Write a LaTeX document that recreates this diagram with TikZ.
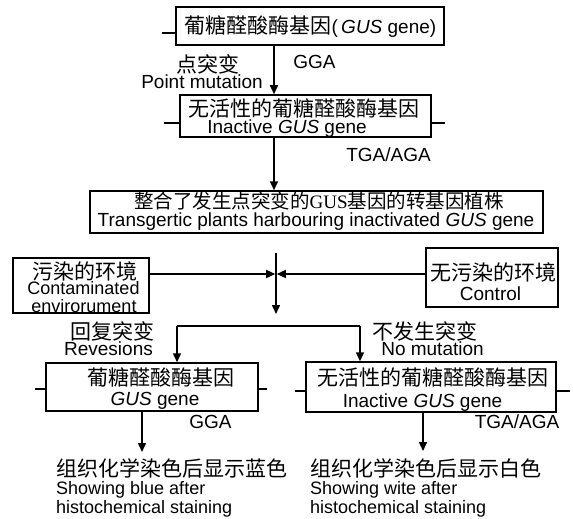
\documentclass[tikz,border=0pt]{standalone}
\usepackage{fontspec}
\setmainfont{Liberation Sans}
\newfontfamily\cjk{Noto Sans CJK SC}
\newfontfamily\serifgus{Liberation Serif}
\newcommand\latf{\fontsize{19}{19}\selectfont\rmfamily}
\usetikzlibrary{arrows.meta}
\begin{document}
\begin{tikzpicture}[x=1pt,y=-1pt,
  box/.style={draw, line width=1.5pt, inner sep=0pt},
  lat/.style={inner sep=0pt, font=\fontsize{19}{19}\selectfont, text height=13.6pt, text depth=0pt},
  latsm/.style={inner sep=0pt, font=\fontsize{18}{18}\selectfont, text height=13pt, text depth=0pt},
  zh/.style={inner sep=0pt, font=\fontsize{21}{21}\selectfont\cjk, text height=16pt, text depth=0pt},
  ln/.style={line width=1.5pt},
  arr/.style={line width=1.5pt, -{Triangle[length=9pt,width=8pt]}}]
\useasboundingbox (0,0) rectangle (573,519);

% boxes
\node[box, minimum width=268pt, minimum height=38pt] (b1) at (310,26) {};
\node[box, minimum width=251pt, minimum height=42pt] (b2) at (305.5,116) {};
\node[box, minimum width=453pt, minimum height=42pt] (b3) at (316.5,212) {};
\node[box, minimum width=136pt, minimum height=55pt] (bl) at (81,285.5) {};
\node[box, minimum width=132pt, minimum height=59pt] (br) at (492,277.5) {};
\node[box, minimum width=212pt, minimum height=48pt] (bL) at (152,387) {};
\node[box, minimum width=250pt, minimum height=50pt] (bR) at (431,387) {};

% box texts
\node[zh] (t1) at (310.5,26) {葡糖醛酸酶基因{\latf(\,\textit{GUS} gene)}};
\node[zh] (t2a) at (303.5,108) {无活性的葡糖醛酸酶基因};
\node[lat] (t2b) at (287,127) {Inactive \textit{GUS} gene};
\node[zh, font=\fontsize{19.5}{19.5}\selectfont\cjk, text height=15pt] (t3a) at (319,201) {整合了发生点突变的{\fontsize{19}{19}\selectfont\serifgus GUS}基因的转基因植株};
\node[lat] (t3b) at (316,220) {Transgertic plants harbouring inactivated \textit{GUS} gene};
\node[zh] (tla) at (85,271) {污染的环境};
\node[latsm] (tlb) at (83.5,288) {Contaminated};
\node[latsm] (tlc) at (84,306) {envirorument};
\node[zh] (tra) at (493.5,272) {无污染的环境};
\node[lat] (trb) at (490.5,294) {Control};
\node[zh] (tLa) at (160.5,377) {葡糖醛酸酶基因};
\node[lat] (tLb) at (155,399) {\textit{GUS} gene};
\node[zh] (tRa) at (433,377) {无活性的葡糖醛酸酶基因};
\node[lat] (tRb) at (422.5,401) {Inactive \textit{GUS} gene};

% labels
\node[zh] (l1) at (207.5,65) {点突变};
\node[lat] (l2) at (202,82) {Point mutation};
\node[lat] (l3) at (314.5,62) {GGA};
\node[lat] (l4) at (388.5,155) {TGA/AGA};
\node[zh] (l5) at (112.5,331) {回复突变};
\node[lat] (l6) at (108.5,349) {Revesions};
\node[zh] (l7) at (424.5,331) {不发生突变};
\node[lat] (l8) at (432.5,349) {No mutation};
\node[lat] (l9) at (210.5,422) {GGA};
\node[lat] (l10) at (517,422) {TGA/AGA};

% bottom texts
\node[zh, anchor=west] (bb1) at (56,468) {组织化学染色后显示蓝色};
\node[latsm, anchor=west] (bb2) at (56,488) {Showing blue after};
\node[latsm, anchor=west] (bb3) at (56,507) {histochemical staining};
\node[zh, anchor=west] (wb1) at (310,468) {组织化学染色后显示白色};
\node[latsm, anchor=west] (wb2) at (310,488) {Showing wite after};
\node[latsm, anchor=west] (wb3) at (310,507) {histochemical staining};

% helper coordinates
\coordinate (x274) at (274,0);
\coordinate (vtop) at (276,253);
\coordinate (vmid) at (276,274);
\coordinate (vbot) at (276,314);
\coordinate (brl) at (177,326);
\coordinate (brr) at (360,326);
\coordinate (eL) at (142,452);
\coordinate (eR) at (423,451);
\coordinate (s1) at (162,33);
\coordinate (s2) at (164,123);
\coordinate (s3) at (445,123);
\coordinate (s4) at (35,389);
\coordinate (s5) at (267,389);
\coordinate (s6) at (295,391);
\coordinate (s7) at (570,391);

% connectors
\draw[arr] (b1.south -| x274) -- (b2.north -| x274);
\draw[arr] (b2.south -| x274) -- (b3.north -| x274);
\draw[arr] (vtop) -- (vbot);
\draw[arr, shorten >=0.8pt] (bl.east |- vmid) -- (vmid);
\draw[arr, shorten >=0.8pt] (br.west |- vmid) -- (vmid);
\draw[ln] (brl) -- (brr);
\draw[arr] (brl) -- (bL.north -| brl);
\draw[arr] (brr) -- (bR.north -| brr);
\draw[arr] (bL.south -| eL) -- (eL);
\draw[arr] (bR.south -| eR) -- (eR);

% side stubs
\draw[ln] (b1.west |- s1) -- (s1);
\draw[ln] (b2.west |- s2) -- (s2);
\draw[ln] (b2.east |- s3) -- (s3);
\draw[ln] (bL.west |- s4) -- (s4);
\draw[ln] (bL.east |- s5) -- (s5);
\draw[ln] (bR.west |- s6) -- (s6);
\draw[ln] (bR.east |- s7) -- (s7);
\end{tikzpicture}
\end{document}
